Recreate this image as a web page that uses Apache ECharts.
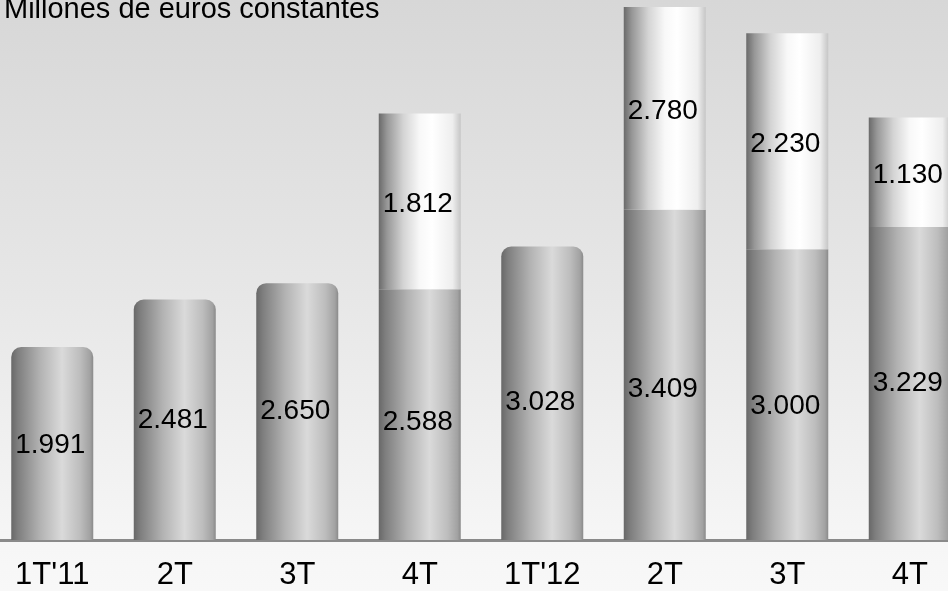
<!DOCTYPE html>
<html>
<head>
<meta charset="utf-8">
<script src="https://cdn.jsdelivr.net/npm/echarts@6/dist/echarts.min.js"></script>
<style>
  html, body { margin: 0; padding: 0; overflow: hidden; width: 948px; height: 591px; background: #f8f8f8; }
  /* the plot runs slightly past both window edges */
  #chart { position: absolute; left: -9px; top: 0; width: 980px; height: 591px; }
</style>
</head>
<body>
<div id="chart"></div>
<script>
// Quarterly figures, millions of constant euros
const categories = ["1T'11", '2T', '3T', '4T', "1T'12", '2T', '3T', '4T'];
const baseValues = [1991, 2481, 2650, 2588, 3028, 3409, 3000, 3229];
const extraValues = [null, null, null, 1812, null, 2780, 2230, 1130];
const unitTitle = 'Millones de euros constantes';

const FONT = '"Liberation Sans", Arial, sans-serif';

// label nudges (px) for the lower segments
const baseLabelNudge = [2, 0, 0, 8, 9, 14, 12, 0];

const grayCylinder = {
  type: 'linear', x: 0, y: 0, x2: 1, y2: 0,
  colorStops: [
    { offset: 0, color: '#686868' },
    { offset: 0.08, color: '#7e7e7e' },
    { offset: 0.35, color: '#b2b2b2' },
    { offset: 0.62, color: '#dadada' },
    { offset: 0.84, color: '#bdbdbd' },
    { offset: 0.96, color: '#a2a2a2' },
    { offset: 1, color: '#8a8a8a' }
  ]
};
const whiteCylinder = {
  type: 'linear', x: 0, y: 0, x2: 1, y2: 0,
  colorStops: [
    { offset: 0, color: '#6a6a6a' },
    { offset: 0.1, color: '#979797' },
    { offset: 0.3, color: '#d4d4d4' },
    { offset: 0.5, color: '#f8f8f8' },
    { offset: 0.65, color: '#ffffff' },
    { offset: 0.9, color: '#eeeeee' },
    { offset: 1, color: '#c6c6c6' }
  ]
};

const fmt = v => String(v).replace(/\B(?=(\d{3})+(?!\d))/g, '.');

const baseData = baseValues.map((v, i) => ({
  value: v,
  itemStyle: {
    color: grayCylinder,
    borderRadius: extraValues[i] == null ? [10, 10, 0, 0] : 0
  },
  label: { offset: [-2, baseLabelNudge[i]] }
}));
const extraData = extraValues.map(v => (v == null ? '-' : v));

const chart = echarts.init(document.getElementById('chart'));
chart.setOption({
  animation: false,
  backgroundColor: {
    type: 'linear', x: 0, y: 0, x2: 0, y2: 1,
    colorStops: [
      { offset: 0, color: '#d7d7d7' },
      { offset: 0.5, color: '#e7e7e7' },
      { offset: 0.92, color: '#f6f6f6' },
      { offset: 1, color: '#f8f8f8' }
    ]
  },
  title: {
    text: unitTitle,
    left: 13,
    top: -5,
    padding: 0,
    textStyle: { fontFamily: FONT, fontSize: 29, fontWeight: 'normal', color: '#000' }
  },
  grid: { left: 0, right: 0, top: 7, bottom: 50, containLabel: false },
  xAxis: {
    type: 'category',
    data: categories,
    axisLine: { lineStyle: { color: '#8a8a8a', width: 3 } },
    axisTick: { show: false },
    axisLabel: { fontFamily: FONT, fontSize: 31, color: '#000', margin: 20 }
  },
  yAxis: { type: 'value', min: 0, max: 5500, show: false, splitLine: { show: false } },
  series: [
    {
      type: 'bar',
      stack: 'total',
      barWidth: 82,
      clip: true,
      data: baseData,
      label: {
        show: true, position: 'inside', color: '#000',
        fontFamily: FONT, fontSize: 28,
        formatter: p => fmt(p.value)
      }
    },
    {
      type: 'bar',
      stack: 'total',
      barWidth: 82,
      clip: true,
      data: extraData,
      itemStyle: { color: whiteCylinder },
      label: {
        show: true, position: 'inside', color: '#000',
        fontFamily: FONT, fontSize: 28, offset: [-2, 3],
        formatter: p => fmt(p.value)
      }
    }
  ]
});
</script>
</body>
</html>
